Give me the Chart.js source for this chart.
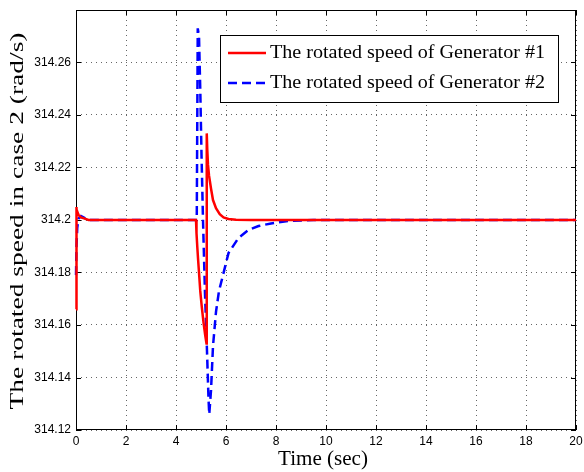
<!DOCTYPE html>
<html><head><meta charset="utf-8">
<script src="https://cdn.jsdelivr.net/npm/chart.js@4/dist/chart.umd.min.js"></script>
<style>html,body{margin:0;padding:0;background:#fff}</style>
</head><body>
<canvas id="c" width="584" height="472"></canvas>
<script>
const time1 = [0, 0.01, 0.03, 0.06, 0.1, 0.2, 0.35, 0.5, 1, 4.8, 4.82, 4.85, 4.88, 4.92, 4.97, 5.03, 5.1, 5.17, 5.22, 5.23, 5.25, 5.28, 5.32, 5.4, 5.48, 5.6, 5.75, 5.9, 6.1, 6.4, 7, 20];
const gen1 = [314.166, 314.205, 314.204, 314.203, 314.202, 314.201, 314.2005, 314.2, 314.2, 314.2, 314.195, 314.19, 314.1855, 314.18, 314.173, 314.167, 314.161, 314.156, 314.153, 314.233, 314.227, 314.221, 314.217, 314.212, 314.2076, 314.2045, 314.2022, 314.201, 314.2004, 314.2001, 314.2, 314.2];
const time2 = [0, 0.02, 0.05, 0.1, 0.2, 0.3, 0.5, 1, 4.83, 4.87, 4.92, 4.97, 5.02, 5.08, 5.16, 5.24, 5.3, 5.33, 5.4, 5.48, 5.6, 5.72, 5.88, 6.1, 6.5, 6.9, 7.3, 7.8, 8.5, 9.5, 20];
const gen2 = [314.179, 314.19, 314.197, 314.2005, 314.2015, 314.201, 314.2, 314.2, 314.2, 314.273, 314.27, 314.25, 314.225, 314.2, 314.172, 314.15, 314.132, 314.126, 314.135, 314.152, 314.165, 314.173, 314.179, 314.1874, 314.1932, 314.1962, 314.1977, 314.1987, 314.1996, 314.2, 314.2];
const xTicks = [0, 2, 4, 6, 8, 10, 12, 14, 16, 18, 20];
const yTicks = [314.12, 314.14, 314.16, 314.18, 314.2, 314.22, 314.24, 314.26];
const seriesLabels = ['The rotated speed of Generator #1', 'The rotated speed of Generator #2'];
const xTitle = 'Time (sec)';
const yTitle = 'The rotated speed in case 2 (rad/s)';

const pts = (ts, vs) => ts.map((t, i) => ({x: t, y: vs[i]}));
const serif = 'Liberation Serif';

function stretchedText(ctx, text, x, y, targetW, font, align, rotate) {
  ctx.save();
  ctx.font = font;
  ctx.fillStyle = '#000';
  ctx.translate(x, y);
  if (rotate) ctx.rotate(-Math.PI / 2);
  const w = ctx.measureText(text).width;
  ctx.scale(targetW / w, 1);
  ctx.textAlign = align;
  ctx.textBaseline = 'middle';
  ctx.fillText(text, 0, 0);
  ctx.restore();
}

const framePlugin = {
  id: 'frame',
  beforeDatasetsDraw(chart) {
    const {ctx, chartArea: a, scales} = chart;
    ctx.save();
    ctx.strokeStyle = '#000';
    ctx.lineWidth = 1;
    ctx.strokeRect(a.left + 0.5, a.top + 0.5, a.right - a.left - 1, a.bottom - a.top - 1);
    ctx.beginPath();
    xTicks.forEach(v => {
      const x = Math.round(scales.x.getPixelForValue(v)) + 0.5;
      ctx.moveTo(x, a.bottom); ctx.lineTo(x, a.bottom - 5);
      ctx.moveTo(x, a.top); ctx.lineTo(x, a.top + 5);
    });
    yTicks.forEach(v => {
      const y = Math.round(scales.y.getPixelForValue(v)) + 0.5;
      ctx.moveTo(a.left, y); ctx.lineTo(a.left + 5, y);
      ctx.moveTo(a.right, y); ctx.lineTo(a.right - 5, y);
    });
    ctx.stroke();
    ctx.restore();
  },
  afterDraw(chart) {
    const {ctx, chartArea: a} = chart;
    // axis titles
    stretchedText(ctx, xTitle, (a.left + a.right) / 2 - 3, 460, 90, '20px "' + serif + '"', 'center', false);
    stretchedText(ctx, yTitle, 18, 221, 377, '18px "' + serif + '"', 'center', true);
    // legend
    const bx = 220, by = 35, bw = 338, bh = 67;
    ctx.save();
    ctx.fillStyle = '#fff';
    ctx.fillRect(bx, by, bw, bh);
    ctx.strokeStyle = '#000';
    ctx.lineWidth = 1;
    ctx.strokeRect(bx + 0.5, by + 0.5, bw, bh);
    chart.data.datasets.forEach((ds, i) => {
      const y = by + 18 + i * 30;
      ctx.beginPath();
      ctx.strokeStyle = ds.borderColor;
      ctx.lineWidth = ds.borderWidth;
      ctx.setLineDash(ds.borderDash || []);
      ctx.moveTo(228, y); ctx.lineTo(266, y);
      ctx.stroke();
      ctx.setLineDash([]);
      stretchedText(ctx, ds.label, 270, y, 275, '19px "' + serif + '"', 'left', false);
    });
    ctx.restore();
  }
};

new Chart(document.getElementById('c'), {
  type: 'line',
  data: {
    datasets: [
      {label: seriesLabels[0], data: pts(time1, gen1), borderColor: '#ff0000', borderWidth: 2.5, pointRadius: 0, fill: false, tension: 0, clip: false},
      {label: seriesLabels[1], data: pts(time2, gen2), borderColor: '#0000ff', borderWidth: 2.5, borderDash: [9, 5], pointRadius: 0, fill: false, tension: 0, clip: false}
    ]
  },
  options: {
    responsive: false,
    animation: false,
    layout: {padding: {left: 0, right: 8, top: 10, bottom: 0}},
    plugins: {legend: {display: false}, tooltip: {enabled: false}},
    scales: {
      x: {
        type: 'linear', min: 0, max: 20,
        afterBuildTicks: s => { s.ticks = xTicks.map(v => ({value: v})); },
        afterFit: s => { s.height = 42; s.paddingLeft = 0; s.paddingRight = 0; },
        grid: {color: 'rgba(0,0,0,0.6)', drawTicks: false, lineWidth: 1},
        border: {display: false, dash: [1, 4]},
        ticks: {color: '#000', font: {family: 'Liberation Sans', size: 12}, padding: 4, maxRotation: 0,
                callback: v => String(v)},
        title: {display: false}
      },
      y: {
        type: 'linear', min: 314.12, max: 314.28,
        afterBuildTicks: s => { s.ticks = yTicks.map(v => ({value: v})); },
        afterFit: s => { s.width = 76; s.paddingTop = 0; s.paddingBottom = 0; },
        grid: {color: 'rgba(0,0,0,0.6)', drawTicks: false, lineWidth: 1},
        border: {display: false, dash: [1, 4]},
        ticks: {color: '#000', font: {family: 'Liberation Sans', size: 12}, padding: 5,
                callback: v => String(Number(v.toFixed(2)))},
        title: {display: false}
      }
    }
  },
  plugins: [framePlugin]
});
</script>
</body></html>
